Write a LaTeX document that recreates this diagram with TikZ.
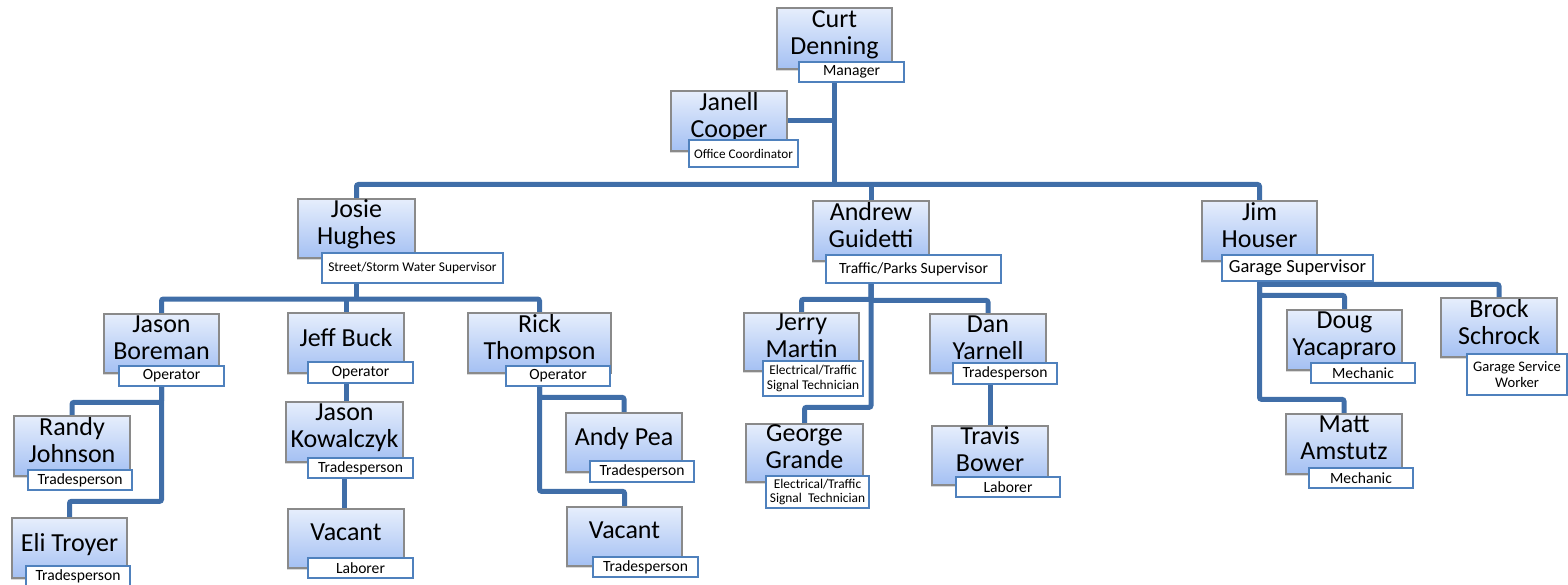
\documentclass[tikz,border=0pt]{standalone}
\usepackage{fontspec}
\setmainfont{Carlito}
\usetikzlibrary{backgrounds,shadows}
\definecolor{conn}{RGB}{64,110,168}
\definecolor{boxtop}{RGB}{230,238,252}
\definecolor{boxbot}{RGB}{164,192,243}
\definecolor{boxedge}{RGB}{138,138,138}
\definecolor{labedge}{RGB}{79,129,189}
\newcommand\fs[2]{\fontsize{#1}{#2}\selectfont}
\newcommand\mkbox[7][pbox]{\node[#1, minimum width={(#5-#3)*1pt}, minimum height={(#6-#4)*1pt}] (#2) at ({(#3+#5)/2},{(#4+#6)/2}) {#7};}
\tikzset{
 pbox/.style={draw=boxedge, line width=1.3pt, top color=boxtop, bottom color=boxbot, inner sep=0pt, align=center, font=\fs{26}{27},
   text depth=12pt, drop shadow={shadow xshift=-1.5pt, shadow yshift=-2pt, opacity=0.3}},
 lab/.style={draw=labedge, fill=white, line width=1.5pt, inner sep=0pt, align=center, font=\fs{15.6}{16}},
 wire/.style={draw=conn, line width=5pt, rounded corners=2pt},
}
\begin{document}
\begin{tikzpicture}[x=1pt,y=-1pt]
\useasboundingbox (0,0) rectangle (1568,585);
% person boxes
\mkbox{curt}{777}{8}{892}{69}{Curt\\Denning}
\mkbox{janell}{671}{91}{787}{151}{Janell\\Cooper}
\mkbox{josie}{298}{199}{415}{258}{Josie\\Hughes}
\mkbox{andrew}{813}{201}{929}{261}{Andrew\\Guidetti}
\mkbox{jim}{1202}{201}{1317}{261}{Jim\\Houser}
\mkbox{boreman}{104}{314}{219}{373}{Jason\\Boreman}
\mkbox{jeff}{288}{313}{404}{373}{Jeff Buck}
\mkbox{rick}{468}{313}{611}{373}{Rick\\Thompson}
\mkbox{randy}{14}{416}{130}{476}{Randy\\Johnson}
\mkbox{eli}{12}{518}{127}{578}{Eli Troyer}
\mkbox{kow}{286}{402}{403}{462}{Jason\\Kowalczyk}
\mkbox{vaca}{288}{509}{404}{568}{Vacant}
\mkbox{andy}{566}{413}{682}{472}{Andy Pea}
\mkbox{vacb}{567}{507}{682}{566}{Vacant}
\mkbox{jerry}{744}{313}{859}{371}{Jerry\\Martin}
\mkbox{dan}{930}{314}{1046}{373}{Dan\\Yarnell}
\mkbox{george}{746}{424}{863}{482}{George\\Grande}
\mkbox{travis}{932}{426}{1048}{485}{Travis\\Bower}
\mkbox{doug}{1287}{310}{1402}{370}{Doug\\Yacapraro}
\mkbox{brock}{1441}{298}{1557}{357}{Brock\\Schrock}
\mkbox{matt}{1286}{414}{1402}{474}{Matt\\Amstutz}
% title labels
\mkbox[lab]{curtL}{799}{62}{904}{82}{Manager}
\mkbox[lab,font=\fs{13.2}{14}]{janellL}{689}{140}{798}{167}{Office Coordinator}
\mkbox[lab,font=\fs{13.4}{14}]{josieL}{322}{253}{503}{283}{Street/Storm Water Supervisor}
\mkbox[lab]{andrewL}{826}{255}{1001}{283}{Traffic/Parks Supervisor}
\mkbox[lab,font=\fs{18.5}{19}]{jimL}{1222}{255}{1373}{281}{Garage Supervisor}
\mkbox[lab]{boremanL}{119}{366}{224}{386}{Operator}
\mkbox[lab]{jeffL}{308}{362}{413}{383}{Operator}
\mkbox[lab]{rickL}{506}{366}{610}{386}{Operator}
\mkbox[lab]{randyL}{28}{470}{132}{490}{Tradesperson}
\mkbox[lab]{eliL}{26}{566}{130}{587}{Tradesperson}
\mkbox[lab]{kowL}{308}{458}{413}{478}{Tradesperson}
\mkbox[lab]{vacaL}{308}{558}{413}{578}{Laborer}
\mkbox[lab]{andyL}{590}{461}{694}{482}{Tradesperson}
\mkbox[lab]{vacbL}{593}{557}{698}{577}{Tradesperson}
\mkbox[lab,font=\fs{13.4}{14.5}]{jerryL}{763}{361}{863}{396}{Electrical/Traffic\\Signal Technician}
\mkbox[lab]{danL}{953}{363}{1057}{384}{Tradesperson}
\mkbox[lab,font=\fs{13.4}{14.5}]{georgeL}{766}{476}{869}{508}{Electrical/Traffic\\Signal\ \ Technician}
\mkbox[lab]{travisL}{956}{477}{1060}{497}{Laborer}
\mkbox[lab]{dougL}{1311}{363}{1415}{383}{Mechanic}
\mkbox[lab,font=\fs{14.6}{16}]{brockL}{1467}{354}{1567}{395}{Garage Service\\Worker}
\mkbox[lab]{mattL}{1309}{468}{1413}{488}{Mechanic}
% connectors
\begin{scope}[on background layer]
\coordinate (bar) at (834.5,184.5);
\coordinate (jbar) at (356.5,299);
\draw[wire] (curt.south |- curtL.south) -- (bar);
\draw[wire] (curt.south |- janell.east) -- (janell.east);
\draw[wire] (josie.north) |- (bar) -| (jim.north);
\draw[wire] (andrew.north) -- (andrew.north |- bar);
\draw[wire] (josie.south |- josieL.south) -- (jbar);
\draw[wire] (boreman.north) |- (jbar) -| (rick.north);
\draw[wire] (jeff.north) -- (jeff.north |- jbar);
\draw[wire] (boreman.south |- boremanL.south) |- ([yshift=16pt]eli.north) -- (eli.north);
\draw[wire] (boreman.south |- boremanL.south) |- ([yshift=13pt]randy.north) -- (randy.north);
\draw[wire] (jeff.south |- jeffL.south) -- (jeff.south |- kow.north);
\draw[wire] (kow.south |- kowL.south) -- (kow.south |- vaca.north);
\draw[wire] (rick.south |- rickL.south) |- ([yshift=15pt]andy.north) -- (andy.north);
\draw[wire] (rick.south |- rickL.south) |- ([yshift=15pt]vacb.north) -- (vacb.north);
\draw[wire] (andrew.south |- andrewL.south) |- ([yshift=13pt]jerry.north) -- (jerry.north);
\draw[wire] (andrew.south |- andrewL.south) |- ([yshift=13pt]dan.north) -- (dan.north);
\draw[wire] (andrew.south |- andrewL.south) |- ([yshift=16pt]george.north) -- (george.north);
\draw[wire] (travis.north |- danL.south) -- (travis.north);
\draw[wire] (jim.south |- jimL.south) |- ([yshift=13pt]brock.north) -- (brock.north);
\draw[wire] (jim.south |- jimL.south) |- ([yshift=14pt]doug.north) -- (doug.north);
\draw[wire] (jim.south |- jimL.south) |- ([yshift=14pt]matt.north) -- (matt.north);
\end{scope}
\end{tikzpicture}
\end{document}
